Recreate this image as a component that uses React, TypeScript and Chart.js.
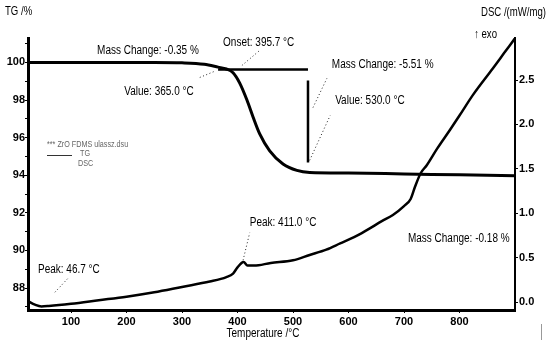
import React, { useEffect, useRef } from 'react';
import { Chart, registerables } from 'chart.js';

Chart.register(...registerables);

// TG curve (mass %, left axis)
const tgTemperature = [22.5, 50, 100, 150, 200, 250, 300, 340, 365, 380, 392, 404, 417, 428, 440, 458, 482, 507, 530, 600, 700, 800, 900];
const tgPercent = [100, 100, 100, 100, 100, 100, 99.98, 99.9, 99.75, 99.65, 99.45, 98.9, 98.0, 97.1, 96.2, 95.3, 94.6, 94.26, 94.15, 94.12, 94.07, 94.02, 93.97];

// DSC curve (mW/mg, right axis)
const dscTemperature = [22.5, 35, 46.7, 60, 100, 150, 200, 250, 300, 350, 380, 392, 400, 411, 418, 430, 460, 500, 530, 560, 585, 610, 633, 660, 680, 700, 712, 720, 730, 741, 760, 783, 800, 824, 860, 880, 900];
const dscValue = [0.01, -0.03, -0.05, -0.045, -0.02, 0.02, 0.06, 0.11, 0.17, 0.23, 0.28, 0.32, 0.39, 0.45, 0.41, 0.41, 0.44, 0.47, 0.53, 0.59, 0.66, 0.73, 0.81, 0.91, 0.98, 1.08, 1.16, 1.3, 1.45, 1.54, 1.73, 1.94, 2.1, 2.33, 2.63, 2.8, 2.97];

// Evaluation marks
const onsetTangentTemperature = [365, 527];
const onsetTangentPercent = [99.63, 99.63];
const stepLineTemperature = [527, 527];
const stepLinePercent = [99.04, 94.68];

// Dotted leader lines: [x0, x1], [y0, y1], axis
const leaderX = [[71, 95], [410, 422], [408, 440], [332, 358], [536, 561], [530, 567]];
const leaderY = [[0.11, 0.27], [0.47, 0.78], [99.84, 100.64], [99.2, 99.52], [97.6, 99.15], [94.79, 97.18]];
const leaderAxis = ['y1', 'y1', 'y', 'y', 'y', 'y'];

// Annotation texts anchored in data units
const annotationLabels = ['Mass Change: -0.35 %', 'Onset: 395.7 °C', 'Value: 365.0 °C', 'Mass Change: -5.51 %', 'Value: 530.0 °C', 'Peak: 411.0 °C', 'Mass Change: -0.18 %', 'Peak: 46.7 °C'];
const annotationX = [147, 374, 196, 570, 576, 422, 707, 40.5];
const annotationY = [100.64, 101.06, 98.46, 99.89, 97.98, 0.89, 0.72, 0.36];
const annotationAxis = ['y', 'y', 'y', 'y', 'y', 'y1', 'y1', 'y1'];

// Ticks
const xTickValues = [100, 200, 300, 400, 500, 600, 700, 800];
const tgTickValues = [87, 88, 89, 90, 91, 92, 93, 94, 95, 96, 97, 98, 99, 100, 101];
const dscTickValues = [0, 0.5, 1.0, 1.5, 2.0, 2.5];

const FONT = '"Liberation Sans", Arial, sans-serif';
const NARROW = 0.8;

function drawNarrow(ctx: CanvasRenderingContext2D, text: string, x: number, y: number, align: 'left' | 'right' | 'center') {
  const w = ctx.measureText(text).width * NARROW;
  let left = x;
  if (align === 'right') left = x - w;
  if (align === 'center') left = x - w / 2;
  ctx.save();
  ctx.translate(left, y);
  ctx.scale(NARROW, 1);
  ctx.textAlign = 'left';
  ctx.fillText(text, 0, 0);
  ctx.restore();
}

const textPlugin = {
  id: 'textPlugin',
  afterDraw(chart: any) {
    const ctx = chart.ctx as CanvasRenderingContext2D;
    const sx = chart.scales.x;
    ctx.save();
    ctx.fillStyle = '#000';
    ctx.textBaseline = 'middle';
    ctx.font = `12.5px ${FONT}`;
    annotationLabels.forEach((label, i) => {
      const sy = chart.scales[annotationAxis[i]];
      drawNarrow(ctx, label, sx.getPixelForValue(annotationX[i]), sy.getPixelForValue(annotationY[i]), 'left');
    });
    ctx.font = `12px ${FONT}`;
    drawNarrow(ctx, 'TG /%', 5, 12, 'left');
    drawNarrow(ctx, 'DSC /(mW/mg)', 546, 13, 'right');
    drawNarrow(ctx, '↑ exo', 497, 35, 'right');
    ctx.font = `12.5px ${FONT}`;
    drawNarrow(ctx, 'Temperature /°C', 263, 334, 'center');
    // legend
    ctx.fillStyle = '#666';
    ctx.font = `9px ${FONT}`;
    drawNarrow(ctx, '*** ZrO FDMS ulassz.dsu', 47, 145, 'left');
    drawNarrow(ctx, 'TG', 80, 154, 'left');
    drawNarrow(ctx, 'DSC', 78, 164, 'left');
    ctx.strokeStyle = '#333';
    ctx.lineWidth = 1;
    ctx.beginPath();
    ctx.moveTo(47, 155.5);
    ctx.lineTo(72, 155.5);
    ctx.stroke();
    ctx.strokeStyle = '#999';
    ctx.beginPath();
    ctx.moveTo(541.5, 324);
    ctx.lineTo(541.5, 340);
    ctx.stroke();
    ctx.restore();
  },
};

export default function App() {
  const canvasRef = useRef<HTMLCanvasElement | null>(null);

  useEffect(() => {
    if (!canvasRef.current) return;
    const tgData = tgTemperature.map((t, i) => ({ x: t, y: tgPercent[i] }));
    const dscData = dscTemperature.map((t, i) => ({ x: t, y: dscValue[i] }));
    const leaderSets = leaderX.map((xs, i) => ({
      data: xs.map((xv, j) => ({ x: xv, y: leaderY[i][j] })),
      yAxisID: leaderAxis[i],
      borderColor: '#222',
      borderWidth: 1,
      borderDash: [1, 2.5],
      pointRadius: 0,
      tension: 0,
    }));

    const tickFont = { family: FONT, size: 11, weight: 'bold' as const };

    const chart = new Chart(canvasRef.current, {
      type: 'line',
      data: {
        datasets: [
          {
            label: 'TG',
            data: tgData,
            yAxisID: 'y',
            borderColor: '#000',
            borderWidth: 3,
            pointRadius: 0,
            cubicInterpolationMode: 'monotone',
          },
          {
            label: 'DSC',
            data: dscData,
            yAxisID: 'y1',
            borderColor: '#000',
            borderWidth: 2.5,
            pointRadius: 0,
            cubicInterpolationMode: 'monotone',
          },
          {
            label: 'onset',
            data: onsetTangentTemperature.map((t, i) => ({ x: t, y: onsetTangentPercent[i] })),
            yAxisID: 'y',
            borderColor: '#000',
            borderWidth: 2.5,
            pointRadius: 0,
          },
          {
            label: 'step',
            data: stepLineTemperature.map((t, i) => ({ x: t, y: stepLinePercent[i] })),
            yAxisID: 'y',
            borderColor: '#000',
            borderWidth: 2.5,
            pointRadius: 0,
          },
          ...leaderSets,
        ] as any,
      },
      options: {
        animation: false,
        responsive: true,
        maintainAspectRatio: false,
        layout: { padding: { top: 38, left: 0, right: 0, bottom: 0 } },
        plugins: { legend: { display: false }, tooltip: { enabled: false } },
        scales: {
          x: {
            type: 'linear',
            min: 22.5,
            max: 900,
            afterBuildTicks: (s: any) => {
              s.ticks = xTickValues.map((v) => ({ value: v }));
            },
            afterFit: (s: any) => {
              s.height = 34;
            },
            border: { display: true, color: '#000', width: 3 },
            grid: { drawOnChartArea: false, drawTicks: true, tickLength: 3, tickColor: '#000' },
            ticks: { color: '#000', padding: 2, maxRotation: 0, font: tickFont },
          },
          y: {
            type: 'linear',
            position: 'left',
            min: 86.83,
            max: 101.3,
            afterBuildTicks: (s: any) => {
              s.ticks = tgTickValues.map((v) => ({ value: v }));
            },
            afterFit: (s: any) => {
              s.width = 28;
            },
            border: { display: true, color: '#000', width: 3 },
            grid: { drawOnChartArea: false, drawTicks: true, tickLength: 3, tickColor: '#000' },
            ticks: {
              color: '#000',
              padding: 0,
              font: tickFont,
              callback: (v: any) => (Number(v) % 2 === 0 ? String(v) : ''),
            },
          },
          y1: {
            type: 'linear',
            position: 'right',
            min: -0.09,
            max: 2.973,
            afterBuildTicks: (s: any) => {
              s.ticks = dscTickValues.map((v) => ({ value: v }));
            },
            afterFit: (s: any) => {
              s.width = 33;
            },
            border: { display: true, color: '#000', width: 2 },
            grid: { drawOnChartArea: false, drawTicks: true, tickLength: 3, tickColor: '#000' },
            ticks: {
              color: '#000',
              padding: 1,
              font: tickFont,
              callback: (v: any) => Number(v).toFixed(1),
            },
          },
        },
      },
      plugins: [textPlugin],
    });
    return () => chart.destroy();
  }, []);

  return (
    <div style={{ position: 'absolute', left: 0, top: 0, width: 548, height: 344, background: '#fff' }}>
      <canvas ref={canvasRef} />
    </div>
  );
}
